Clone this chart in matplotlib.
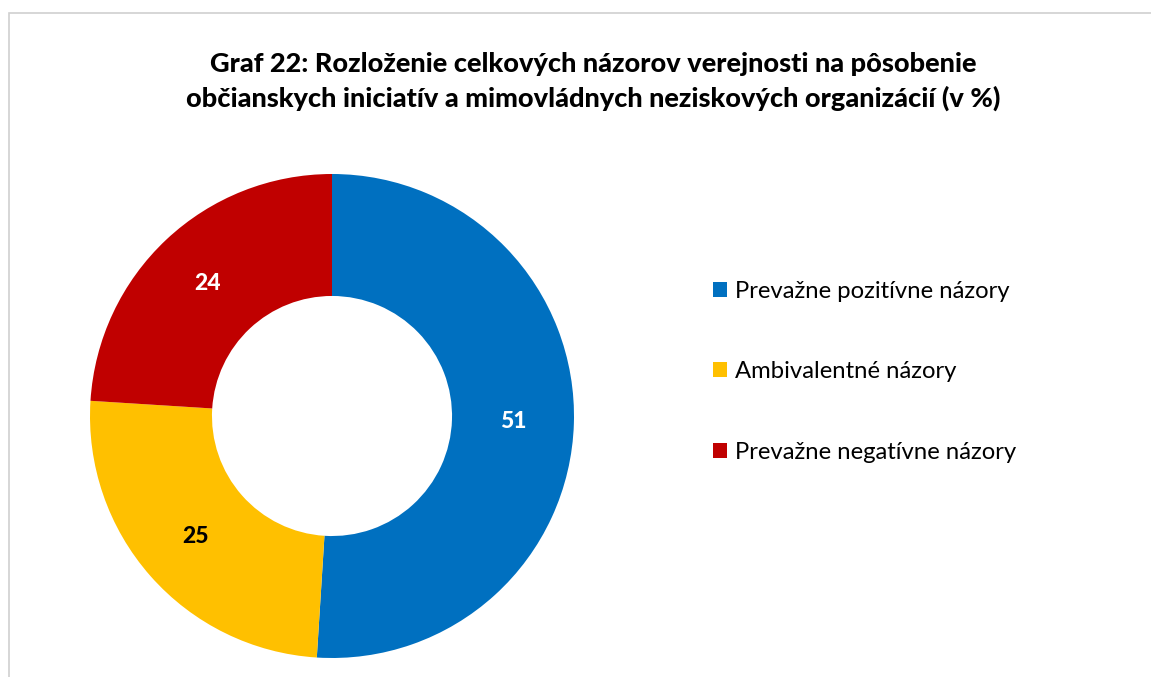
import matplotlib
matplotlib.use("Agg")
import matplotlib.pyplot as plt
from matplotlib.patches import Rectangle

categories = ["Prevažne pozitívne názory", "Ambivalentné názory", "Prevažne negatívne názory"]
values = [51, 25, 24]
colors = ["#0070C0", "#FFC000", "#C00000"]
label_colors = ["white", "black", "white"]
title = "Graf 22: Rozloženie celkových názorov verejnosti na pôsobenie\nobčianskych iniciatív a mimovládnych neziskových organizácií (v %)"

plt.rcParams['font.family'] = ['Lato', 'DejaVu Sans']

W, H = 1151, 677
fig = plt.figure(figsize=(W/100, H/100), dpi=100)

# frame border
fig.patches.append(Rectangle((8.5/W, -0.1), 1.2, (H-12.5)/H + 0.1, transform=fig.transFigure,
                             fill=False, edgecolor="#D0D0D0", linewidth=1.2))

cx, cy, R = 332, 416, 242
ax = fig.add_axes([(cx-R)/W, (H-cy-R)/H, 2*R/W, 2*R/H])
wedges, texts, autotexts = ax.pie(values, colors=colors, startangle=90, counterclock=False,
                                  radius=1.0, wedgeprops=dict(width=0.504, linewidth=0),
                                  autopct=lambda p: f"{p:.0f}", pctdistance=0.75)
for t, c in zip(autotexts, label_colors):
    t.set_color(c)
    t.set_fontweight(900)
    t.set_fontsize(16.5)
ax.set_xlim(-1, 1)
ax.set_ylim(-1, 1)
ax.set_aspect("equal")
ax.axis("off")

fig.text(593/W, 1-81.5/H, title, ha="center", va="center", fontsize=19.5, fontweight=900,
         linespacing=1.45, color="#000000")

leg = fig.legend(wedges, categories, loc="upper left", bbox_to_anchor=(703/W, 1-271/H),
                 frameon=False, fontsize=17.2, handlelength=0.6, handleheight=0.6,
                 handletextpad=0.35, labelspacing=2.5, borderaxespad=0)

fig.savefig("out.png", dpi=100, facecolor="white")
